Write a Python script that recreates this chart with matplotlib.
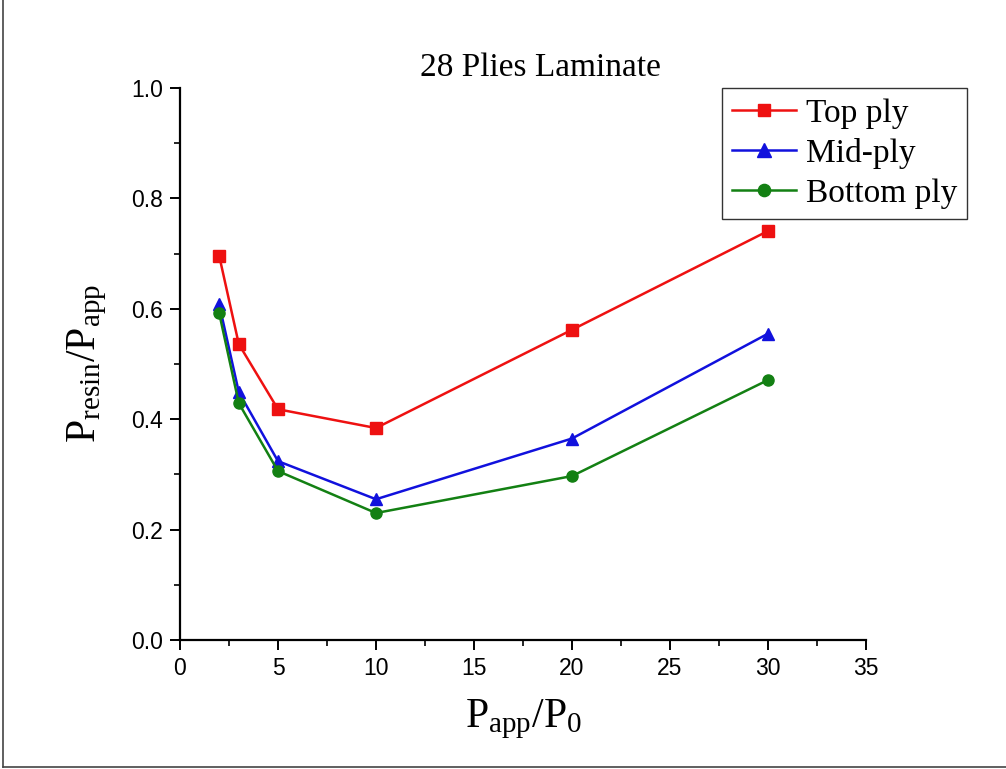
import matplotlib.pyplot as plt
from matplotlib.lines import Line2D
from matplotlib.ticker import MultipleLocator

plt.rcParams['mathtext.fontset'] = 'custom'
plt.rcParams['mathtext.rm'] = 'Liberation Serif'

ratio = [2, 3, 5, 10, 20, 30]
top_ply = [0.696, 0.536, 0.418, 0.384, 0.562, 0.741]
mid_ply = [0.608, 0.449, 0.324, 0.255, 0.365, 0.555]
bottom_ply = [0.592, 0.429, 0.306, 0.230, 0.297, 0.471]

SERIF = 'Liberation Serif'
SANS = 'Liberation Sans'

fig = plt.figure(figsize=(10.06, 7.69), dpi=100)
ax = fig.add_axes([180/1006, 1 - 640/769, 686/1006, 552/769])

ax.plot(ratio, top_ply, color='#ee1111', marker='s', ms=8, lw=1.8, label='Top ply')
ax.plot(ratio, mid_ply, color='#1111dd', marker='^', ms=9, lw=1.8, label='Mid-ply')
ax.plot(ratio, bottom_ply, color='#138013', marker='o', ms=8, lw=1.8, label='Bottom ply')

ax.set_xlim(0, 35)
ax.set_ylim(0, 1.0)
ax.xaxis.set_major_locator(MultipleLocator(5))
ax.xaxis.set_minor_locator(MultipleLocator(2.5))
ax.yaxis.set_major_locator(MultipleLocator(0.2))
ax.yaxis.set_minor_locator(MultipleLocator(0.1))
ax.set_yticks([0, 0.2, 0.4, 0.6, 0.8, 1.0])
ax.set_yticklabels(['0.0', '0.2', '0.4', '0.6', '0.8', '1.0'])

for s in ('top', 'right'):
    ax.spines[s].set_visible(False)
for s in ('left', 'bottom'):
    ax.spines[s].set_linewidth(1.6)
ax.tick_params(which='major', direction='out', length=7, width=1.4, labelsize=16.5, pad=5)
ax.tick_params(which='minor', direction='out', length=4, width=1.2)
for lab in ax.get_xticklabels() + ax.get_yticklabels():
    lab.set_family(SANS)

ax.set_xlabel(r'$\mathrm{P_{app}/P_{0}}$', fontsize=30, labelpad=13)
ax.set_ylabel(r'$\mathrm{P_{resin}/P_{app}}$', fontsize=30, labelpad=16)

fig.text(540/1006, 1 - 68/769, '28 Plies Laminate', family=SERIF, fontsize=24,
         ha='center', va='center')

leg = ax.legend(loc='upper right', bbox_to_anchor=(967/1006, 1 - 88/769),
                bbox_transform=fig.transFigure, borderaxespad=0, fancybox=False,
                framealpha=1, edgecolor='#333333', prop={'family': SERIF, 'size': 24},
                handlelength=1.9, handletextpad=0.3, labelspacing=0.28,
                borderpad=0.3, markerscale=1.1)
leg.get_frame().set_linewidth(1.0)

# image frame on left and bottom
fig.add_artist(Line2D([3/1006, 3/1006], [2/769, 1], transform=fig.transFigure,
                      color='#444444', lw=1.2))
fig.add_artist(Line2D([3/1006, 1], [2/769, 2/769], transform=fig.transFigure,
                      color='#444444', lw=1.2))

fig.savefig('out.png', dpi=100)
